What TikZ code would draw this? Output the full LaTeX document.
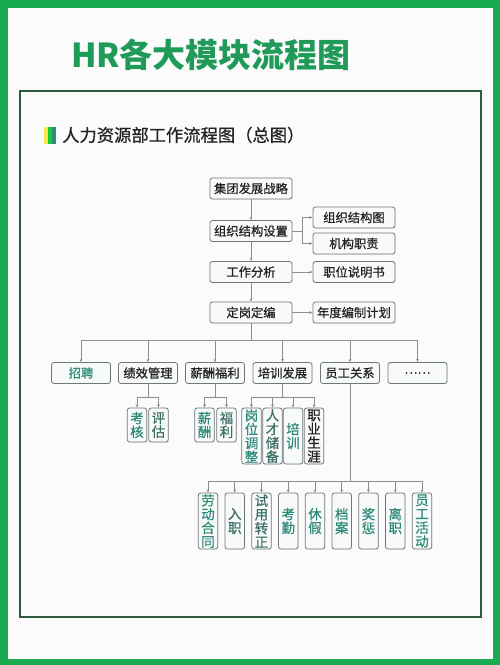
\documentclass[tikz,border=0pt]{standalone}
\usepackage{fontspec}
\newfontfamily\cjk{Noto Sans CJK SC}
\newfontfamily\cjkm[FakeBold=0.7]{Noto Sans CJK SC}
\usetikzlibrary{arrows.meta,shadows}
\definecolor{framegreen}{HTML}{1AAB50}
\definecolor{titlegreen}{HTML}{1F9A58}
\definecolor{innerframe}{HTML}{2E5A40}
\definecolor{bordc}{HTML}{6E7877}
\definecolor{boxf}{HTML}{F8FAF9}
\definecolor{linec}{HTML}{8A8E8D}
\definecolor{teal}{HTML}{2E8B7A}
\definecolor{tealdk}{HTML}{3A6E66}
\definecolor{txt}{HTML}{222222}
\definecolor{bg}{HTML}{FBFBFB}
\tikzset{
  basebox/.style={draw=bordc, fill=boxf, rounded corners=2.5pt, line width=0.8pt, inner sep=0pt,
    drop shadow={opacity=0.15, shadow xshift=0.7pt, shadow yshift=-0.7pt}},
  topbox/.style={basebox, minimum width=82pt, minimum height=21pt, text=txt,
    font=\cjkm\fontsize{12.3}{14}\selectfont},
  midbox/.style={basebox, minimum width=59pt, minimum height=21pt, text=txt,
    font=\cjkm\fontsize{12.3}{14}\selectfont},
  leafbox/.style={basebox, minimum width=19.5pt, minimum height=34pt, align=center, text=teal,
    font=\cjkm\fontsize{13.5}{13.8}\selectfont},
  tallbox/.style={leafbox, minimum height=56pt},
  conn/.style={draw=linec, line width=0.7pt},
  arr/.style={conn, -{Stealth[length=3.2pt,width=2.8pt]}},
}
\begin{document}
\begin{tikzpicture}[x=1pt,y=-1pt]
\useasboundingbox (0,0) rectangle (500,665);
% frames
\fill[framegreen] (0,0) rectangle (500,665);
\fill[bg] (8,7.5) rectangle (492.5,658.5);
\draw[innerframe, line width=1.5pt] (20,91) rectangle (481,617);
% titles
\node[font=\cjk\bfseries\fontsize{33}{36}\selectfont, text=titlegreen, inner sep=0pt] (title) at (211,55) {HR各大模块流程图};
\fill[yellow!80!orange!70] (44,127) rectangle (48,144);
\fill[green!55!teal] (48,127) rectangle (52,144);
\fill[teal] (52,127) rectangle (56,144);
\node[font=\cjkm\fontsize{17.3}{20}\selectfont, text=txt, anchor=west, inner sep=0pt] (sub) at (62,135) {人力资源部工作流程图（总图）};
% main column
\node[topbox] (s1) at (251,188.5) {集团发展战略};
\node[topbox] (s2) at (251,231) {组织结构设置};
\node[topbox] (s3) at (251,272) {工作分析};
\node[topbox] (s4) at (251,312.5) {定岗定编};
\node[topbox] (o1) at (354,217.5) {组织结构图};
\node[topbox] (o2) at (354,243.5) {机构职责};
\node[topbox] (o3) at (354,272) {职位说明书};
\node[topbox] (o4) at (354,312.5) {年度编制计划};
\draw[arr] (s1) -- (s2);
\draw[arr] (s2) -- (s3);
\draw[arr] (s3) -- (s4);
\draw[arr] (s3) -- (o3);
\draw[arr] (s4) -- (o4);
\coordinate (bk) at (302,231);
\draw[conn] (s2.east) -- (bk);
\draw[arr] (bk) |- (o1.west);
\draw[arr] (bk) |- (o2.west);
% second row
\node[midbox, text=teal] (m1) at (81,373) {招聘};
\node[midbox] (m2) at (148,373) {绩效管理};
\node[midbox] (m3) at (215,373) {薪酬福利};
\node[midbox] (m4) at (282.5,373) {培训发展};
\node[midbox] (m5) at (350,373) {员工关系};
\node[midbox] (m6) at (417.5,373) {……};
\coordinate (bus) at (251,340);
\draw[conn] (s4.south) -- (bus);
\draw[conn] (m1.north |- bus) -- (m6.north |- bus);
\foreach \m in {m1,m2,m3,m4,m5,m6} \draw[arr] (\m.north |- bus) -- (\m.north);
% third level
\node[leafbox] (k1) at (137,425) {考\\核};
\node[leafbox, text=tealdk] (k2) at (158.5,425) {评\\估};
\node[leafbox] (x1) at (204.5,425) {薪\\酬};
\node[leafbox, text=tealdk] (x2) at (226.5,425) {福\\利};
\node[tallbox] (p1) at (251.5,436) {岗\\位\\调\\整};
\node[tallbox, text=tealdk] (p2) at (272.5,436) {人\\才\\储\\备};
\node[tallbox] (p3) at (293,436) {培\\训};
\node[tallbox, text=txt] (p4) at (314,436) {职\\业\\生\\涯};
\coordinate (jx) at (148,397);
\draw[conn] (m2.south) -- (jx);
\draw[conn] (k1.north |- jx) -- (k2.north |- jx);
\foreach \m in {k1,k2} \draw[arr] (\m.north |- jx) -- (\m.north);
\coordinate (xc) at (215,397);
\draw[conn] (m3.south) -- (xc);
\draw[conn] (x1.north |- xc) -- (x2.north |- xc);
\foreach \m in {x1,x2} \draw[arr] (\m.north |- xc) -- (\m.north);
\coordinate (pc) at (282.5,397);
\draw[conn] (m4.south) -- (pc);
\draw[conn] (p1.north |- pc) -- (p4.north |- pc);
\foreach \m in {p1,p2,p3,p4} \draw[arr] (\m.north |- pc) -- (\m.north);
% bottom row
\node[tallbox] (b1) at (208,521) {劳\\动\\合\\同};
\node[tallbox, text=tealdk] (b2) at (234.75,521) {入\\职};
\node[tallbox, text=tealdk] (b3) at (261.5,521) {试\\用\\转\\正};
\node[tallbox] (b4) at (288.25,521) {考\\勤};
\node[tallbox] (b5) at (315,521) {休\\假};
\node[tallbox] (b6) at (341.75,521) {档\\案};
\node[tallbox] (b7) at (368.5,521) {奖\\惩};
\node[tallbox] (b8) at (395.25,521) {离\\职};
\node[tallbox] (b9) at (422,521) {员\\工\\活\\动};
\coordinate (yg) at (350,481);
\draw[conn] (m5.south) -- (yg);
\draw[conn] (b1.north |- yg) -- (b9.north |- yg);
\foreach \m in {b1,b2,b3,b4,b5,b6,b7,b8,b9} \draw[arr] (\m.north |- yg) -- (\m.north);
\end{tikzpicture}
\end{document}
